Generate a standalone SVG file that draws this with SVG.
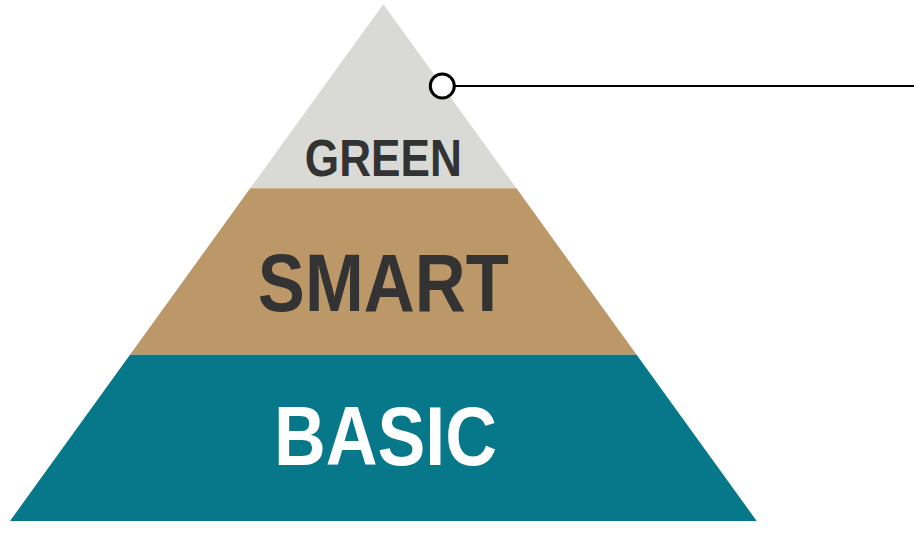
<svg xmlns="http://www.w3.org/2000/svg" width="914" height="546" viewBox="0 0 914 546">
<style>
.lbl{font-family:"Liberation Sans",Arial,sans-serif;font-weight:bold;text-anchor:middle}
.dark{fill:#333333}
.light{fill:#ffffff}
</style>
<rect width="914" height="546" fill="#ffffff"/>
<g id="layer-green">
<polygon points="383.3,4.3 516.4,188.3 250.2,188.3" fill="#D9DAD5"/>
<text class="lbl dark" x="383.3" y="176" font-size="52" textLength="157" lengthAdjust="spacingAndGlyphs">GREEN</text>
</g>
<g id="layer-smart">
<polygon points="250.2,188.3 516.4,188.3 636.6,354.7 130,354.7" fill="#BC9768"/>
<text class="lbl dark" x="383.3" y="311" font-size="81" textLength="251" lengthAdjust="spacingAndGlyphs">SMART</text>
</g>
<g id="layer-basic">
<polygon points="130,354.7 636.6,354.7 756.7,521 10,521" fill="#067889"/>
<text class="lbl light" x="385.5" y="465" font-size="84" textLength="223" lengthAdjust="spacingAndGlyphs">BASIC</text>
</g>
<g id="connectors">
<line x1="455" y1="86" x2="914" y2="86" stroke="#000000" stroke-width="2"/>
<circle cx="442.3" cy="86" r="12" fill="#ffffff" stroke="#000000" stroke-width="3"/>
</g>
</svg>
